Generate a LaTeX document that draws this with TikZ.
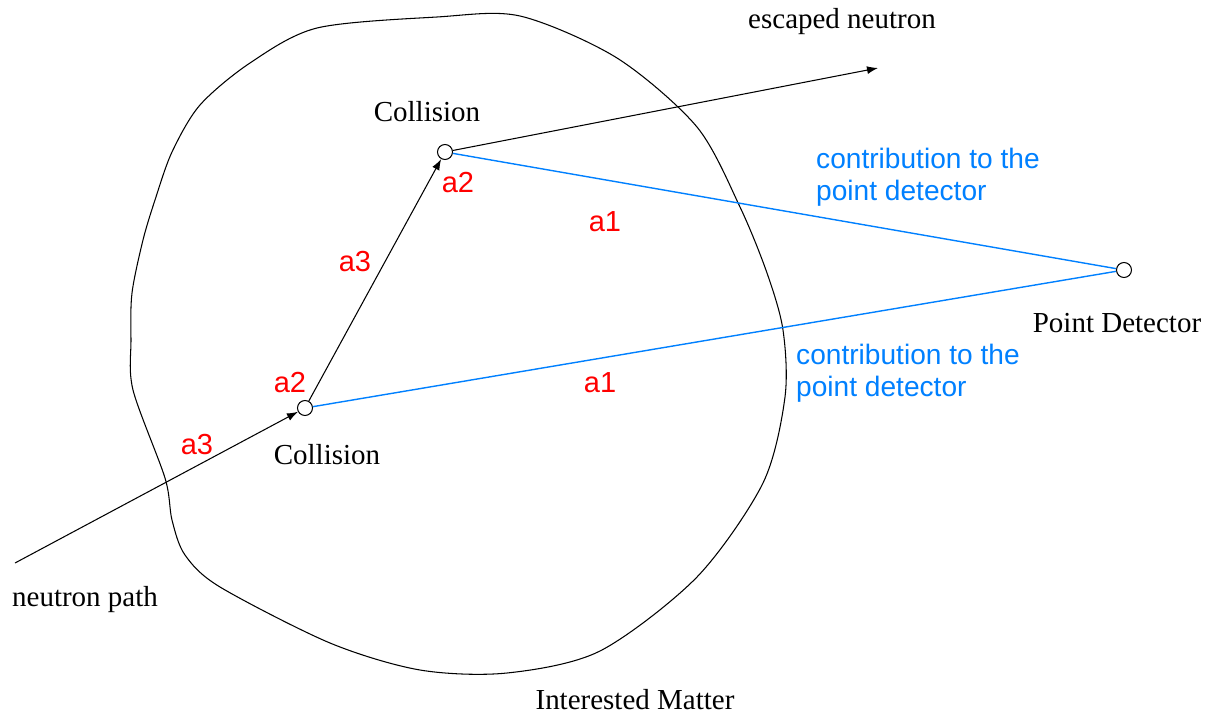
\documentclass[tikz,border=0pt]{standalone}
\usepackage{fontspec}
\setmainfont{Liberation Serif}
\newfontfamily\labelfont{Liberation Sans}
\usetikzlibrary{arrows.meta}
\definecolor{contrib}{RGB}{0,128,255}
\tikzset{collision/.style={circle, draw, inner sep=0pt, minimum size=0.3cm, line width=0.6pt}}
\tikzset{track/.style={line width=0.6pt, -{Latex[length=0.22cm, width=0.16cm]}}}
\tikzset{contribution/.style={contrib, line width=0.8pt}}
\tikzset{seglabel/.style={red, font=\labelfont\fontsize{16.5}{18}\selectfont}}
\tikzset{caption/.style={font=\fontsize{16.5}{19}\selectfont}}
\tikzset{bluetext/.style={contrib, align=left, anchor=west, font=\labelfont\fontsize{16}{18}\selectfont}}

\begin{document}
\begin{tikzpicture}[x=0.02cm, y=-0.02cm]
            \useasboundingbox (0, 0) rectangle (1218, 714);
            % the matter
            \draw[line width=0.6pt] plot[smooth cycle, tension=0.5] coordinates {(132, 293) (143, 240) (155, 200) (172, 152) (200, 105) (250, 63) (317, 28) (437, 17) (520, 16) (617, 58) (697, 127) (740, 207) (767, 273) (783, 330) (785, 397) (763, 483) (697, 577) (600, 651) (507, 673) (420, 670) (330, 643) (220, 587) (185, 555) (172, 520) (165, 478) (133, 390) (131, 340)};
            \node[collision] (low) at (305, 408) {};
            \node[collision] (up) at (445, 152) {};
            \node[collision] (det) at (1124, 270) {};
            \coordinate (start) at (15, 563);
            \coordinate (escape) at (878, 68);
            \draw[track] (start) -- (low);
            \draw[track] (low) -- (up);
            \draw[track] (up) -- (escape);
            \draw[contribution] (up) -- (det);
            \draw[contribution] (low) -- (det);
            % labels
            \node[caption] (upname) at (427, 112) {Collision};
            \node[caption] (lowname) at (327, 455) {Collision};
            \node[caption] (escname) at (842, 22) {escaped neutron};
            \node[caption] (detname) at (1117, 323) {Point Detector};
            \node[caption] (pathname) at (85, 600) {neutron path};
            \node[caption] (mattername) at (635, 700) {Interested Matter};
            \node[seglabel] (upa2) at (458, 183) {a2};
            \node[seglabel] (upa1) at (605, 222) {a1};
            \node[seglabel] (mida3) at (355, 262) {a3};
            \node[seglabel] (lowa2) at (290, 383) {a2};
            \node[seglabel] (lowa3) at (197, 445) {a3};
            \node[seglabel] (lowa1) at (600, 383) {a1};
            \node[bluetext] (upcontrib) at (810, 177) {contribution to the\\point detector};
            \node[bluetext] (lowcontrib) at (790, 373) {contribution to the\\point detector};
        \end{tikzpicture}
\end{document}
